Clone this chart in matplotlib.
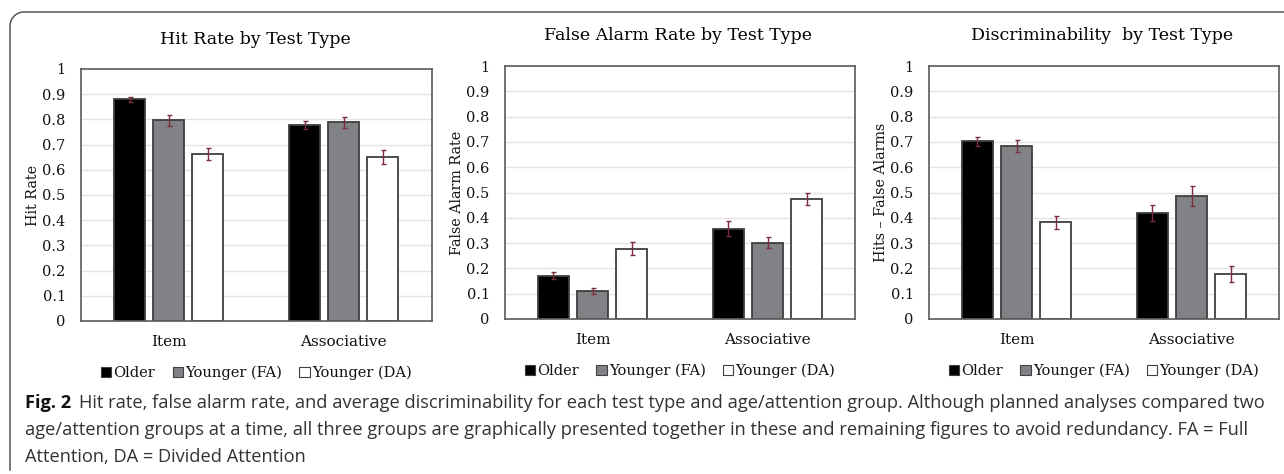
import numpy as np
import matplotlib
matplotlib.use("Agg")
import matplotlib.pyplot as plt
from matplotlib.patches import Patch
from matplotlib.lines import Line2D

# ---------------- data ----------------
categories = ["Item", "Associative"]
groups = ["Older", "Younger (FA)", "Younger (DA)"]

hit_older = [0.879, 0.779]
hit_yfa = [0.796, 0.788]
hit_yda = [0.663, 0.652]
hit_err_older = [0.011, 0.016]
hit_err_yfa = [0.021, 0.022]
hit_err_yda = [0.025, 0.028]

fa_older = [0.171, 0.357]
fa_yfa = [0.112, 0.302]
fa_yda = [0.278, 0.473]
fa_err_older = [0.014, 0.030]
fa_err_yfa = [0.012, 0.023]
fa_err_yda = [0.026, 0.024]

d_older = [0.702, 0.419]
d_yfa = [0.684, 0.485]
d_yda = [0.382, 0.177]
d_err_older = [0.018, 0.031]
d_err_yfa = [0.025, 0.040]
d_err_yda = [0.026, 0.032]

yticks = [0, 0.1, 0.2, 0.3, 0.4, 0.5, 0.6, 0.7, 0.8, 0.9, 1]
ytick_labels = ["0", "0.1", "0.2", "0.3", "0.4", "0.5", "0.6", "0.7", "0.8", "0.9", "1"]

titles = ["Hit Rate by Test Type", "False Alarm Rate by Test Type", "Discriminability  by Test Type"]
ylabels = ["Hit Rate", "False Alarm Rate", "Hits \u2013 False Alarms"]

caption_bold = "Fig. 2"
caption_lines = [
    "Hit rate, false alarm rate, and average discriminability for each test type and age/attention group. Although planned analyses compared two",
    "age/attention groups at a time, all three groups are graphically presented together in these and remaining figures to avoid redundancy. FA = Full",
    "Attention, DA = Divided Attention",
]

# ---------------- style ----------------
W, H = 1284, 474
fig = plt.figure(figsize=(W / 100, H / 100), dpi=100)
SERIF = ["DejaVu Serif"]
bar_colors = ["#000000", "#808285", "#ffffff"]
edge = "#3f3f3f"
err_color = "#7b2d3e"
grid_color = "#e4e4e4"
spine_color = "#5a5a5a"
text_color = "#111111"

def px_rect(left, top, right, bottom):
    return [left / W, 1 - bottom / H, (right - left) / W, (bottom - top) / H]

panels = [
    dict(rect=px_rect(81, 69, 431.5, 321), title_xy=(255, 40), ylabel_x=33,
         vals=[hit_older, hit_yfa, hit_yda], errs=[hit_err_older, hit_err_yfa, hit_err_yda]),
    dict(rect=px_rect(505, 66, 855, 319), title_xy=(678, 36), ylabel_x=457,
         vals=[fa_older, fa_yfa, fa_yda], errs=[fa_err_older, fa_err_yfa, fa_err_yda]),
    dict(rect=px_rect(929, 66, 1279, 319), title_xy=(1102, 36), ylabel_x=881,
         vals=[d_older, d_yfa, d_yda], errs=[d_err_older, d_err_yfa, d_err_yda]),
]

cat_x = np.arange(len(categories)) + 0.5
bw = 0.177
step = 0.223

for k, p in enumerate(panels):
    ax = fig.add_axes(p["rect"])
    ax.set_xlim(0, 2)
    ax.set_ylim(0, 1)
    ax.set_axisbelow(True)
    for y in yticks[1:-1]:
        ax.axhline(y, color=grid_color, lw=1.0, zorder=0)
    for i in range(3):
        xs = cat_x + (i - 1) * step
        ax.bar(xs, p["vals"][i], width=bw, color=bar_colors[i], edgecolor=edge,
               linewidth=1.3, zorder=2)
        ax.errorbar(xs, p["vals"][i], yerr=p["errs"][i], fmt="none", ecolor=err_color,
                    elinewidth=1.0, capsize=1.8, capthick=1.0, zorder=3)
    ax.set_yticks(yticks)
    ax.set_yticklabels(ytick_labels, family=SERIF, fontsize=10.5, color=text_color)
    ax.set_xticks(cat_x)
    ax.set_xticklabels(categories, family=SERIF, fontsize=11, color=text_color)
    ax.tick_params(axis="y", length=0, pad=11)
    ax.tick_params(axis="x", length=0, pad=10)
    for s in ax.spines.values():
        s.set_color(spine_color)
        s.set_linewidth(1.2)
    tx, ty = p["title_xy"]
    fig.text(tx / W, 1 - ty / H, titles[k], ha="center", va="center",
             family=SERIF, fontsize=12.5, color="#000000")
    cy = (p["rect"][1] + p["rect"][3] / 2)
    fig.text(p["ylabel_x"] / W, cy, ylabels[k], rotation=90, ha="center", va="center",
             family=SERIF, fontsize=10.3, color=text_color)
    handles = [Patch(facecolor=bar_colors[i], edgecolor=edge, linewidth=0.8) for i in range(3)]
    ax.legend(handles, groups, loc="center", bbox_to_anchor=(0.5, -0.205), ncol=3,
              frameon=False, prop=dict(family=SERIF, size=10.5), handlelength=0.7,
              handleheight=0.7, handletextpad=0.15, columnspacing=1.2, labelcolor=text_color)

# ---------------- frame ----------------
r = 14
theta = np.linspace(np.pi, np.pi / 2, 20)
arc_x = 10 + r + r * np.cos(theta)
arc_y = 12 + r - r * np.sin(theta)
fx = np.concatenate([[10], arc_x, [W + 5]])
fy = np.concatenate([[470], arc_y, [12]])
fig.add_artist(Line2D(fx / W, 1 - fy / H, color="#555555", lw=1.1, transform=fig.transFigure))

# ---------------- caption ----------------
CAP = ["Open Sans", "DejaVu Sans"]
fig.canvas.draw()
renderer = fig.canvas.get_renderer()
cap_size = 12.5
x0 = 25
line_y = [403, 430, 457]
tb = fig.text(x0 / W, 1 - line_y[0] / H, caption_bold, family=CAP, weight="bold",
              fontsize=cap_size, color="#111111", ha="left", va="center")
bb = tb.get_window_extent(renderer)
t1 = fig.text((bb.x1 + 8) / W, 1 - line_y[0] / H, caption_lines[0], family=CAP,
              fontsize=cap_size, color="#333333", ha="left", va="center")
bb1 = t1.get_window_extent(renderer)
target = 1271 - x0
scale = target / (bb1.x1 - bb.x0)
cap_size2 = cap_size * scale
tb.set_fontsize(cap_size2)
bb = tb.get_window_extent(renderer)
t1.set_fontsize(cap_size2)
t1.set_x((bb.x1 + 8) / W)
for j in (1, 2):
    fig.text(x0 / W, 1 - line_y[j] / H, caption_lines[j], family=CAP,
             fontsize=cap_size2, color="#333333", ha="left", va="center")

fig.savefig("out.png", dpi=100, facecolor="white")
